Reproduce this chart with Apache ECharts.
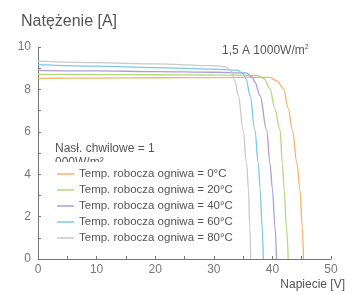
<!DOCTYPE html>
<html>
<head>
<meta charset="utf-8">
<script src="https://cdn.jsdelivr.net/npm/echarts@6/dist/echarts.min.js"></script>
<style>
  html, body { margin: 0; padding: 0; background: #fff; }
  #main { width: 353px; height: 294px; }
</style>
</head>
<body>
<div id="main"></div>
<script>
  // krzywe I-V, punkty [napiecie V, natezenie A]
  var names = [
    'Temp. robocza ogniwa = 0°C',
    'Temp. robocza ogniwa = 20°C',
    'Temp. robocza ogniwa = 40°C',
    'Temp. robocza ogniwa = 60°C',
    'Temp. robocza ogniwa = 80°C'
  ]
  var colors = ['#f8b26c', '#b3d983', '#ab9fd3', '#7cc8ea', '#c9c9c9']

  var curve0 = [[0, 8.52], [10, 8.53], [20, 8.55], [30, 8.56], [39.5, 8.57], [40.8, 8.4], [41.9, 8.04], [42.7, 7.1], [43.4, 6.08], [44.2, 4.5], [44.7, 3.26], [45.1, 1.5], [45.3, 0]]
  var curve20 = [[0, 8.71], [10, 8.7], [20, 8.69], [30, 8.68], [37.5, 8.66], [38.6, 8.5], [39.6, 8.04], [40.4, 7.1], [41.3, 6.1], [41.7, 4.5], [42.0, 3.3], [42.4, 1.5], [42.7, 0]]
  var curve40 = [[0, 8.9], [10, 8.87], [20, 8.84], [30, 8.81], [35.5, 8.78], [36.5, 8.6], [37.0, 8.35], [37.9, 7.7], [39.0, 6.1], [39.6, 4.5], [40.0, 3.3], [40.45, 1.5], [40.7, 0]]
  var curve60 = [[0, 9.17], [10, 9.1], [20, 9.03], [30, 8.96], [34, 8.91], [35, 8.75], [35.5, 8.5], [36.2, 7.7], [37.0, 6.1], [37.6, 4.5], [37.9, 3.3], [38.25, 1.5], [38.45, 0]]
  var curve80 = [[0, 9.33], [10, 9.26], [20, 9.2], [30, 9.12], [32, 9.07], [33, 8.85], [33.6, 8.4], [34.2, 7.7], [35.0, 6.1], [35.6, 4.5], [35.9, 3.3], [36.15, 1.5], [36.3, 0]]
  var curves = [curve0, curve20, curve40, curve60, curve80]

  var myChart = echarts.init(document.getElementById('main'))

  var axisCommon = {
    type: 'value',
    axisLine: { show: true, lineStyle: { color: '#777', width: 1 } },
    axisTick: { show: true, inside: true, length: 3, lineStyle: { color: '#777' } },
    splitLine: { show: false },
    axisLabel: { color: '#777', fontSize: 12, fontFamily: 'Liberation Sans' }
  }

  var option = {
    animation: false,
    color: colors,
    title: {
      text: 'Natężenie [A]',
      left: 16,
      top: 9,
      textStyle: { fontSize: 16, fontWeight: 'normal', color: '#555', fontFamily: 'Liberation Sans' }
    },
    grid: { left: 38, right: 22, top: 47, bottom: 35 },
    xAxis: Object.assign({}, axisCommon, {
      min: 0,
      max: 50,
      interval: 5,
      axisLabel: Object.assign({}, axisCommon.axisLabel, {
        margin: 5,
        formatter: function (v) { return v % 10 === 0 ? v : '' }
      })
    }),
    yAxis: Object.assign({}, axisCommon, {
      min: 0,
      max: 10,
      interval: 1,
      axisLabel: Object.assign({}, axisCommon.axisLabel, {
        margin: 7,
        formatter: function (v) { return v % 2 === 0 ? v : '' }
      })
    }),
    legend: {
      orient: 'vertical',
      left: 53,
      top: 162,
      padding: [6, 4, 1, 4],
      backgroundColor: '#fff',
      icon: 'rect',
      itemWidth: 17,
      itemHeight: 1.5,
      itemGap: 4,
      textStyle: { color: '#555', fontSize: 11.5, fontFamily: 'Liberation Sans', lineHeight: 11 },
      data: names
    },
    graphic: [
      {
        type: 'text',
        left: 55,
        top: 142,
        z: 1,
        style: {
          text: 'Nasł. chwilowe = 1\n000W/m²',
          fill: '#555',
          font: '12px "Liberation Sans"',
          lineHeight: 14
        }
      },
      {
        type: 'text',
        left: 222,
        top: 44,
        style: {
          text: '1,5 A 1000W/m{sup|2}',
          fill: '#555',
          font: '12px "Liberation Sans"',
          rich: { sup: { fontSize: 7, verticalAlign: 'top', fill: '#555', padding: [0, 0, 6, 0] } }
        }
      },
      {
        type: 'text',
        right: 8,
        top: 279,
        style: { text: 'Napiecie [V]', fill: '#555', font: '12px "Liberation Sans"' }
      }
    ],
    series: curves.map(function (d, i) {
      return {
        name: names[i],
        type: 'line',
        data: d,
        symbol: 'none',
        smooth: 0.35,
        smoothMonotone: 'x',
        lineStyle: { width: 1.3, color: colors[i] }
      }
    })
  }

  myChart.setOption(option)
</script>
</body>
</html>
